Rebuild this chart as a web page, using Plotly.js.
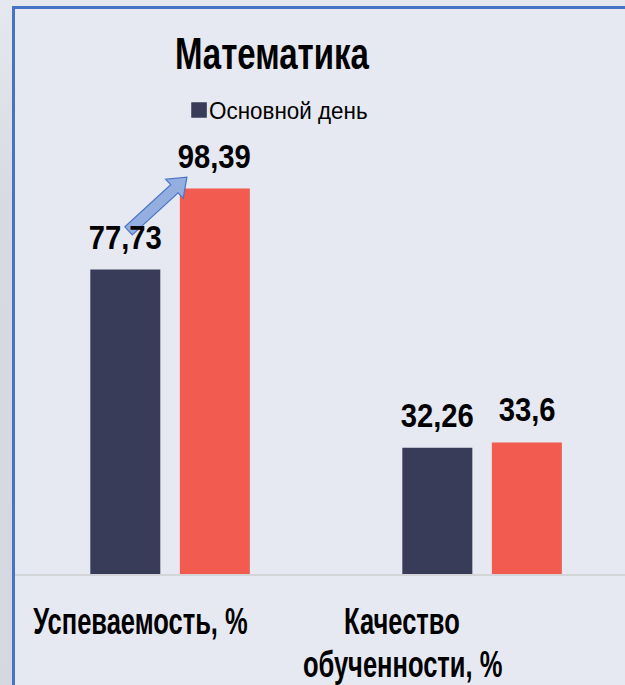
<!DOCTYPE html>
<html>
<head>
<meta charset="utf-8">
<script src="https://cdn.plot.ly/plotly-3.0.1.min.js"></script>
<style>
  html, body { margin: 0; padding: 0; width: 625px; height: 685px; overflow: hidden;
               background: linear-gradient(180deg, #e6e8ef 0%, #d8dae3 30%, #d6d8e1 100%); }
  #frame { position: absolute; left: 12px; top: 6px; width: 610px; height: 676px;
           border-left: 3px solid #4673c6; border-top: 3px solid #4673c6; background: #e6e9f2; }
  #chart { width: 610px; height: 676px; }
</style>
</head>
<body>
<div id="frame"><div id="chart"></div></div>
<script>
const categories = ["Успеваемость, %", "Качество<br>обученности, %"];
const seriesNames = ["Основной день", "Ряд 2"];
const seriesA = [77.73, 32.26];
const seriesB = [98.39, 33.6];
const labelsA = ["77,73", "32,26"];
const labelsB = ["98,39", "33,6"];

const FONT = '"Liberation Sans", Arial, sans-serif';
const W = 610, H = 676, ML = 0, MR = 0, MT = 0, MB = 111;
const PXPERUNIT = 3.917;
const xRange = [-0.497, 1.458];
const pw = W - ML - MR, ph = H - MT - MB;
const yRange = [0, ph / PXPERUNIT];

function px2paper(x, y) { return [(x - ML) / pw, (H - MB - y) / ph]; }
function d2px(x, y) {
  return [ML + (x - xRange[0]) / (xRange[1] - xRange[0]) * pw,
          H - MB - (y - yRange[0]) / (yRange[1] - yRange[0]) * ph];
}

const traces = [
  { type: 'bar', x: [0, 1], y: seriesA, name: seriesNames[0], marker: { color: '#393c58' },
    showlegend: true, hoverinfo: 'none' },
  { type: 'bar', x: [0, 1], y: seriesB, name: seriesNames[1], marker: { color: '#f25b50' },
    showlegend: false, hoverinfo: 'none' }
];

const annotations = [];
const squeezeX = [];   // horizontal condensing of each annotation's text (narrow font look)
const groupOffset = 0.1435;
const labelFont = { family: FONT, size: 33, color: '#000', weight: 'bold' };
for (let i = 0; i < 2; i++) {
  annotations.push({ x: i - groupOffset, y: seriesA[i], xref: 'x', yref: 'y', text: labelsA[i],
    showarrow: false, yanchor: 'bottom', yshift: 12, font: labelFont });
  squeezeX.push(0.885);
  annotations.push({ x: i + groupOffset, y: seriesB[i], xref: 'x', yref: 'y', text: labelsB[i],
    showarrow: false, yanchor: 'bottom', yshift: 12, font: labelFont });
  squeezeX.push(0.885);
}
// category labels, one annotation per line
const catX = [-0.096, 0.744];
const lineOffsets = [47, 90];
for (let i = 0; i < 2; i++) {
  categories[i].split('<br>').forEach((line, j) => {
    annotations.push({ x: catX[i], y: 0, xref: 'x', yref: 'paper', text: line, showarrow: false,
      yanchor: 'middle', yshift: -lineOffsets[j], align: 'center',
      font: { family: FONT, size: 37, color: '#000', weight: 'bold' } });
    squeezeX.push(0.69);
  });
}

// block arrow from first dark bar towards first red bar
const tail = d2px(-0.133, 87.6), tip = d2px(0.054, 101.3);
const dx = tip[0] - tail[0], dy = tip[1] - tail[1];
const L = Math.hypot(dx, dy), ux = dx / L, uy = dy / L, nx = -uy, ny = ux;
const sw = 5.5, hw = 13, hl = 17;
const pts = [
  [tail[0] + nx * sw, tail[1] + ny * sw],
  [tip[0] - ux * hl + nx * sw, tip[1] - uy * hl + ny * sw],
  [tip[0] - ux * hl + nx * hw, tip[1] - uy * hl + ny * hw],
  [tip[0], tip[1]],
  [tip[0] - ux * hl - nx * hw, tip[1] - uy * hl - ny * hw],
  [tip[0] - ux * hl - nx * sw, tip[1] - uy * hl - ny * sw],
  [tail[0] - nx * sw, tail[1] - ny * sw]
].map(p => px2paper(p[0], p[1]));
const path = 'M' + pts.map(p => p[0].toFixed(5) + ',' + p[1].toFixed(5)).join(' L') + ' Z';

const layout = {
  width: W, height: H,
  margin: { l: ML, r: MR, t: MT, b: MB, pad: 0, autoexpand: false },
  paper_bgcolor: '#e6e9f2', plot_bgcolor: '#e6e9f2',
  title: { text: '<b>Математика</b>', x: 0.421, xanchor: 'center', y: 1 - 45 / H, yanchor: 'middle',
           font: { family: FONT, size: 44, color: '#000' } },
  barmode: 'group', bargap: 0.426, bargroupgap: 0.218,
  xaxis: { type: 'linear', range: xRange, showticklabels: false, showgrid: false, zeroline: false,
           showline: true, linecolor: '#d4d5d9', linewidth: 2, fixedrange: true },
  yaxis: { range: yRange, visible: false, fixedrange: true },
  showlegend: true,
  legend: { x: 0.2689, y: (H - MB - 101) / ph, xanchor: 'left', yanchor: 'middle',
            orientation: 'h', bgcolor: 'rgba(0,0,0,0)', itemwidth: 30,
            font: { family: FONT, size: 23, color: '#000' } },
  annotations: annotations,
  shapes: [{ type: 'path', xref: 'paper', yref: 'paper', path: path,
             fillcolor: '#94aee0', line: { color: '#4a74c6', width: 1.2 } }]
};

function squeeze(el, sx) {
  const b = el.getBBox();
  const cx = b.x + b.width / 2;
  const orig = el.getAttribute('transform') || '';
  el.setAttribute('transform', orig + ` translate(${cx},0) scale(${sx},1) translate(${-cx},0)`);
}

Plotly.newPlot('chart', traces, layout, { displayModeBar: false, staticPlot: true }).then(gd => {
  gd.querySelectorAll('g.annotation').forEach(g => {
    const i = +g.getAttribute('data-index');
    const t = g.querySelector('text');
    if (t && squeezeX[i]) squeeze(t, squeezeX[i]);
  });
  const title = gd.querySelector('.gtitle');
  if (title) squeeze(title, 0.75);
  gd.querySelectorAll('.legendtext').forEach(t => {
    const b = t.getBBox();
    const orig = t.getAttribute('transform') || '';
    t.setAttribute('transform', orig + ` translate(${b.x - 10},0) scale(0.975,1) translate(${-b.x},0)`);
  });
  gd.querySelectorAll('.legendpoints path').forEach(p => {
    const orig = p.getAttribute('transform') || '';
    p.setAttribute('transform', orig + ' scale(1.3)');
  });
});
</script>
</body>
</html>
